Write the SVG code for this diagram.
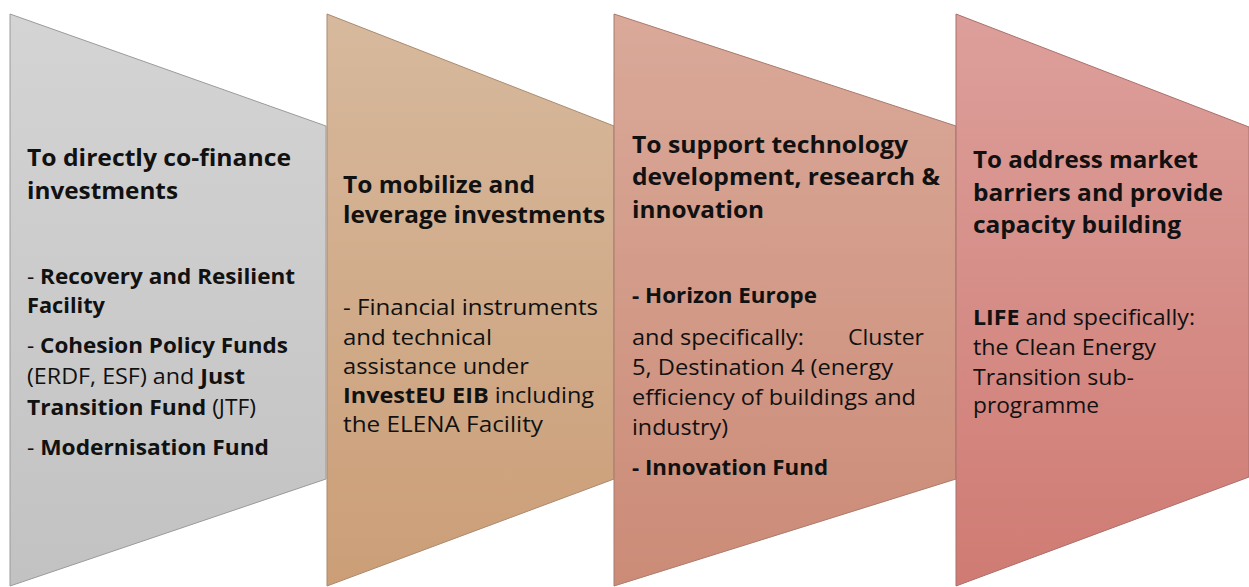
<svg xmlns="http://www.w3.org/2000/svg" width="1249" height="587" viewBox="0 0 1249 587">
  <style>
    .panel { stroke-width: 1; }
    text { font-family: "Open Sans", "Lato", "Liberation Sans", sans-serif; fill: #111; }
    .h { font-size: 22.5px; font-weight: 700; }
    .b { font-size: 21px; font-weight: 400; }
    .bold { font-weight: 700; }
  </style>
  <defs>
    <linearGradient id="gGray" x1="0" y1="0" x2="0" y2="1">
      <stop offset="0" stop-color="#d4d4d4"/>
      <stop offset="1" stop-color="#c2c2c2"/>
    </linearGradient>
    <linearGradient id="gTan" x1="0" y1="0" x2="0" y2="1">
      <stop offset="0" stop-color="#d7b99d"/>
      <stop offset="1" stop-color="#cb9e77"/>
    </linearGradient>
    <linearGradient id="gRose" x1="0" y1="0" x2="0" y2="1">
      <stop offset="0" stop-color="#daa999"/>
      <stop offset="1" stop-color="#cb8b77"/>
    </linearGradient>
    <linearGradient id="gRed" x1="0" y1="0" x2="0" y2="1">
      <stop offset="0" stop-color="#dd9f9b"/>
      <stop offset="1" stop-color="#cf7b73"/>
    </linearGradient>
  </defs>

  <rect width="1249" height="587" fill="#ffffff"/>

  <!-- Panel 1: direct co-financing -->
  <g id="panel-cofinance">
    <polygon class="panel" points="10,14 326,126 326,479 10,586" fill="url(#gGray)" stroke="#9a9a9a"/>
    <text class="h" x="27" y="166" textLength="264" lengthAdjust="spacingAndGlyphs">To directly co-finance</text>
    <text class="h" x="27" y="199" textLength="151" lengthAdjust="spacingAndGlyphs">investments</text>
    <text class="b" x="27" y="284" textLength="268" lengthAdjust="spacingAndGlyphs">- <tspan class="bold">Recovery and Resilient</tspan></text>
    <text class="b bold" x="27" y="313" textLength="78" lengthAdjust="spacingAndGlyphs">Facility</text>
    <text class="b" x="27" y="353" textLength="261" lengthAdjust="spacingAndGlyphs">- <tspan class="bold">Cohesion Policy Funds</tspan></text>
    <text class="b" x="27" y="384" textLength="218" lengthAdjust="spacingAndGlyphs">(ERDF, ESF) and <tspan class="bold">Just</tspan></text>
    <text class="b" x="27" y="415" textLength="229" lengthAdjust="spacingAndGlyphs"><tspan class="bold">Transition Fund</tspan> (JTF)</text>
    <text class="b" x="27" y="455" textLength="242" lengthAdjust="spacingAndGlyphs">- <tspan class="bold">Modernisation Fund</tspan></text>
  </g>

  <!-- Panel 2: mobilising investment -->
  <g id="panel-mobilize">
    <polygon class="panel" points="327,14 614,126 614,479 327,586" fill="url(#gTan)" stroke="#a88a70"/>
    <text class="h" x="343" y="193" textLength="192" lengthAdjust="spacingAndGlyphs">To mobilize and</text>
    <text class="h" x="343" y="223" textLength="262" lengthAdjust="spacingAndGlyphs">leverage investments</text>
    <text class="b" x="343" y="315" textLength="255" lengthAdjust="spacingAndGlyphs">- Financial instruments</text>
    <text class="b" x="343" y="345" textLength="149" lengthAdjust="spacingAndGlyphs">and technical</text>
    <text class="b" x="343" y="374" textLength="186" lengthAdjust="spacingAndGlyphs">assistance under</text>
    <text class="b" x="343" y="403" textLength="251" lengthAdjust="spacingAndGlyphs"><tspan class="bold">InvestEU EIB</tspan> including</text>
    <text class="b" x="343" y="432" textLength="200" lengthAdjust="spacingAndGlyphs">the ELENA Facility</text>
  </g>

  <!-- Panel 3: research and innovation -->
  <g id="panel-research">
    <polygon class="panel" points="614,14 956,126 956,479 614,586" fill="url(#gRose)" stroke="#a87a6c"/>
    <text class="h" x="632" y="153" textLength="276" lengthAdjust="spacingAndGlyphs">To support technology</text>
    <text class="h" x="632" y="185" textLength="308" lengthAdjust="spacingAndGlyphs">development, research &amp;</text>
    <text class="h" x="632" y="218" textLength="132" lengthAdjust="spacingAndGlyphs">innovation</text>
    <text class="b bold" x="632" y="303" textLength="185" lengthAdjust="spacingAndGlyphs">- Horizon Europe</text>
    <text class="b" x="632" y="345" textLength="172" lengthAdjust="spacingAndGlyphs">and specifically:</text>
    <text class="b" x="848" y="345" textLength="76" lengthAdjust="spacingAndGlyphs">Cluster</text>
    <text class="b" x="632" y="375" textLength="261" lengthAdjust="spacingAndGlyphs">5, Destination 4 (energy</text>
    <text class="b" x="632" y="405" textLength="284" lengthAdjust="spacingAndGlyphs">efficiency of buildings and</text>
    <text class="b" x="632" y="435" textLength="96" lengthAdjust="spacingAndGlyphs">industry)</text>
    <text class="b bold" x="632" y="475" textLength="196" lengthAdjust="spacingAndGlyphs">- Innovation Fund</text>
  </g>

  <!-- Panel 4: market barriers and capacity building -->
  <g id="panel-market">
    <polygon class="panel" points="956,14 1249,127 1249,477 956,586" fill="url(#gRed)" stroke="#a8706a"/>
    <text class="h" x="973" y="168" textLength="225" lengthAdjust="spacingAndGlyphs">To address market</text>
    <text class="h" x="973" y="201" textLength="250" lengthAdjust="spacingAndGlyphs">barriers and provide</text>
    <text class="h" x="973" y="233" textLength="208" lengthAdjust="spacingAndGlyphs">capacity building</text>
    <text class="b" x="973" y="325" textLength="222" lengthAdjust="spacingAndGlyphs"><tspan class="bold">LIFE</tspan> and specifically:</text>
    <text class="b" x="973" y="355" textLength="183" lengthAdjust="spacingAndGlyphs">the Clean Energy</text>
    <text class="b" x="973" y="385" textLength="161" lengthAdjust="spacingAndGlyphs">Transition sub-</text>
    <text class="b" x="973" y="413" textLength="126" lengthAdjust="spacingAndGlyphs">programme</text>
  </g>
</svg>
